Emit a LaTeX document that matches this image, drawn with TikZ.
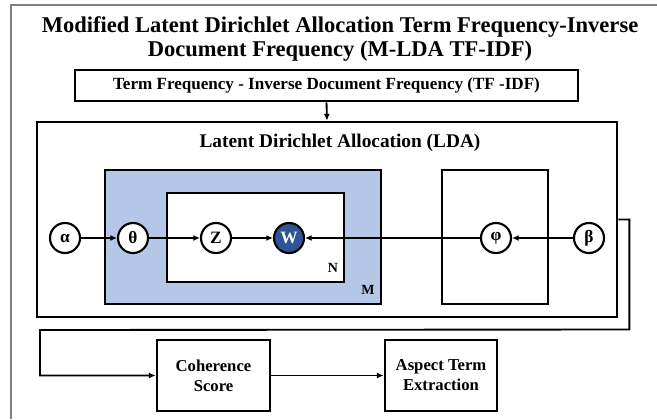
\documentclass[tikz,border=0pt]{standalone}
\usepackage{fontspec}
\setmainfont{Liberation Serif}
\usetikzlibrary{arrows.meta}
\definecolor{plateblue}{HTML}{B4C7E7}
\definecolor{obsblue}{HTML}{2F5597}
\tikzset{
  box/.style={draw=black, line width=2.1pt},
  var/.style={draw=black, circle, line width=1.6pt, minimum size=22.5pt, inner sep=0pt, fill=white, font=\bfseries\fontsize{13}{13}\selectfont},
  link/.style={line width=1.4pt, -{Latex[length=5pt,width=4.5pt]}},
  platelabel/.style={font=\bfseries\fontsize{10.5}{10.5}\selectfont, inner sep=0pt},
  stagebox/.style={box, minimum height=71*0.75pt, inner sep=0pt, align=center, font=\bfseries\fontsize{12.5}{15}\selectfont},
}
\begin{document}
\begin{tikzpicture}[x=0.75pt,y=-0.75pt]
\useasboundingbox (0,0) rectangle (657,419);
% outer frame
\draw[gray, line width=0.8pt] (11,419) -- (11,5) -- (657,5);

% title
\node[font=\bfseries\fontsize{16.9}{17.8}\selectfont, align=center] (title) at (340,39)
  {Modified Latent Dirichlet Allocation Term Frequency-Inverse\\Document Frequency (M-LDA TF-IDF)};

% TF-IDF box
\node[box, minimum width=503*0.75pt, minimum height=31*0.75pt, inner sep=0pt,
  font=\bfseries\fontsize{12.8}{12.8}\selectfont] (tfidf) at (326.5,85.5)
  {Term Frequency - Inverse Document Frequency (TF -IDF)};

% LDA box
\node[box, minimum width=580*0.75pt, minimum height=195*0.75pt, inner sep=0pt] (lda) at (327,219.5) {};
\node[font=\bfseries\fontsize{14.5}{14.5}\selectfont] (ldatitle) at (340,142.5) {Latent Dirichlet Allocation (LDA)};

% plates
\node[box, fill=plateblue, minimum width=276*0.75pt, minimum height=134*0.75pt, inner sep=0pt] (plM) at (243,237) {};
\node[box, fill=white, minimum width=177*0.75pt, minimum height=89*0.75pt, inner sep=0pt] (plN) at (255.5,237.5) {};
\node[box, minimum width=106*0.75pt, minimum height=134*0.75pt, inner sep=0pt] (plphi) at (495,237) {};
\node[platelabel] (labM) at (368,290) {M};
\node[platelabel] (labN) at (333,268) {N};

% variables
\node[var] (alpha) at (65,238) {α};
\node[var] (theta) at (133,238) {θ};
\node[var] (z) at (216,238) {Z};
\node[var, fill=obsblue, text=white] (w) at (289,238) {W};
\node[var] (phi) at (496,238) {φ};
\node[var] (beta) at (589,238) {β};

\draw[link] (alpha) -- (theta);
\draw[link] (theta) -- (z);
\draw[link] (z) -- (w);
\draw[link] (phi) -- (w);
\draw[link] (beta) -- (phi);

% TF-IDF into LDA
\draw[link] (tfidf.south) -- (lda.north);

% output stage
\node[stagebox, minimum width=113*0.75pt] (coh) at (213.5,375.5) {Coherence\\Score};
\node[stagebox, minimum width=112*0.75pt] (ate) at (441,375.5) {Aspect Term\\Extraction};

\draw[link] (lda.east) -- ++(11,0) -- ++(0,110) -- (40,330) |- (coh.west);
\draw[link] (coh) -- (ate);
\end{tikzpicture}
\end{document}
